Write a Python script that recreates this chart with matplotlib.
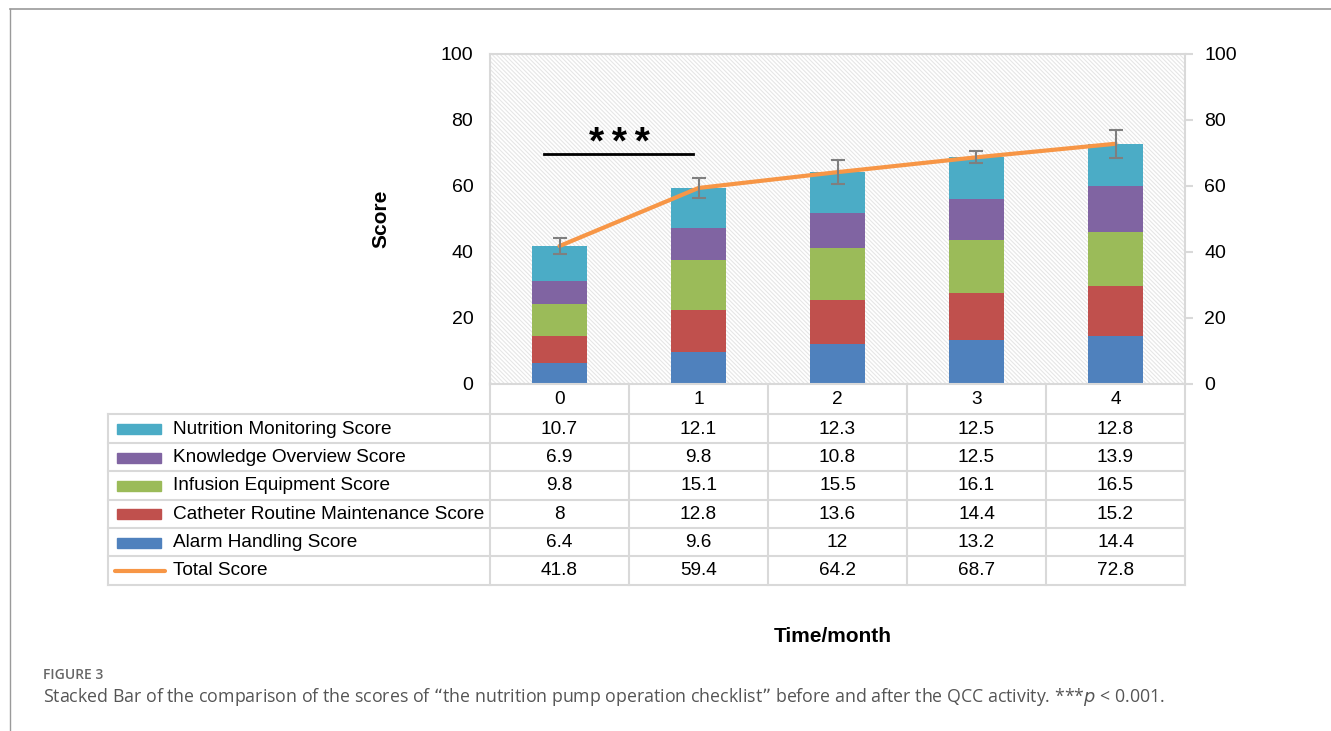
import numpy as np
import matplotlib
matplotlib.use('Agg')
import matplotlib.pyplot as plt
from matplotlib.patches import Rectangle
from matplotlib.lines import Line2D
from matplotlib.transforms import blended_transform_factory

plt.rcParams['font.family'] = ['Liberation Sans', 'DejaVu Sans']
plt.rcParams['hatch.linewidth'] = 0.8

# Dane
months = ['0', '1', '2', '3', '4']
alarm = [6.4, 9.6, 12, 13.2, 14.4]
catheter = [8, 12.8, 13.6, 14.4, 15.2]
infusion = [9.8, 15.1, 15.5, 16.1, 16.5]
knowledge = [6.9, 9.8, 10.8, 12.5, 13.9]
nutrition = [10.7, 12.1, 12.3, 12.5, 12.8]
total = [41.8, 59.4, 64.2, 68.7, 72.8]
total_err = [2.3, 3.1, 3.6, 1.8, 4.2]

# kolejność od dołu słupka
stack = [
    ('Alarm Handling Score', alarm, '#4f81bd'),
    ('Catheter Routine Maintenance Score', catheter, '#c0504d'),
    ('Infusion Equipment Score', infusion, '#9bbb59'),
    ('Knowledge Overview Score', knowledge, '#8064a2'),
    ('Nutrition Monitoring Score', nutrition, '#4bacc6'),
]
total_color = '#f79646'
grid_color = '#d9d9d9'

W, H = 1331, 731
fig = plt.figure(figsize=(W / 100, H / 100), dpi=100)

def fx(px):
    return px / W

def fy(py):
    return 1 - py / H

ax = fig.add_axes([fx(490), fy(384), fx(1185) - fx(490), fy(54) - fy(384)])
x = np.arange(len(months))

# tło z ukośnym kreskowaniem
bg = Rectangle((0, 0), 1, 1, transform=ax.transAxes, facecolor='white',
               edgecolor='#e6e6e6', hatch='\\' * 8, lw=0, zorder=0)
ax.add_patch(bg)

bottom = np.zeros(len(months))
for name, vals, col in stack:
    ax.bar(x, vals, width=0.4, bottom=bottom, color=col, zorder=2)
    bottom += np.array(vals)

ax.plot(x, total, color=total_color, lw=3, zorder=4, solid_capstyle='round')
ax.errorbar(x, total, yerr=total_err, fmt='none', ecolor='#7f7f7f',
            elinewidth=1.5, capsize=5, capthick=1.5, zorder=5)

# oznaczenie istotności
ax.plot([-0.11, 0.96], [69.7, 69.7], color='black', lw=2, zorder=5)
ax.text(0.43, 69.6, '*\u2009*\u2009*', ha='center', va='baseline', fontsize=28,
        fontweight='bold', zorder=5)

ax.set_xlim(-0.5, len(months) - 0.5)
ax.set_ylim(0, 100)
ax.set_yticks(range(0, 101, 20))
ax.set_xticks([])
ax.tick_params(axis='y', length=0, labelsize=14, pad=12)
for side in ['left', 'top', 'right']:
    ax.spines[side].set_color(grid_color)
    ax.spines[side].set_linewidth(1.5)
ax.spines['bottom'].set_visible(False)
ax.set_ylabel('Score', fontsize=15, fontweight='bold', labelpad=36)

ax2 = ax.twinx()
ax2.set_ylim(0, 100)
ax2.set_yticks(range(0, 101, 20))
ax2.tick_params(axis='y', length=6, width=1.5, color=grid_color, labelsize=14, pad=8)
for side in ['left', 'top', 'right', 'bottom']:
    ax2.spines[side].set_visible(False)

# tabela danych pod wykresem
tr = blended_transform_factory(ax.transData, fig.transFigure)
rows_px = [384, 414, 443, 471, 499.5, 528, 556, 584.5]
table_rows = [(name, vals, col) for name, vals, col in stack[::-1]]
table_rows.append(('Total Score', total, total_color))
fs_table = 13.7

for i, py in enumerate(rows_px):
    x0 = 108 if i >= 1 else 490
    fig.add_artist(Line2D([fx(x0), fx(1185)], [fy(py), fy(py)], color=grid_color, lw=1.5))
for px in [490, 629, 768, 907, 1046, 1185]:
    fig.add_artist(Line2D([fx(px), fx(px)], [fy(384), fy(584.5)], color=grid_color, lw=1.5))
fig.add_artist(Line2D([fx(108), fx(108)], [fy(414), fy(584.5)], color=grid_color, lw=1.5))

for j, m in enumerate(months):
    fig.text(j, fy(399.5), m, transform=tr, ha='center', va='center', fontsize=fs_table)

for i, (name, vals, col) in enumerate(table_rows):
    cy = fy((rows_px[i + 1] + rows_px[i + 2]) / 2 + 0.5)
    if name == 'Total Score':
        fig.add_artist(Line2D([fx(115), fx(165)], [cy, cy], color=col, lw=3,
                              solid_capstyle='round'))
    else:
        fig.add_artist(Rectangle((fx(117), cy - 5 / H), fx(161) - fx(117), 10 / H,
                                 color=col, transform=fig.transFigure))
    fig.text(fx(173), cy, name, ha='left', va='center', fontsize=fs_table)
    for j, v in enumerate(vals):
        fig.text(j, cy, f'{v:g}', transform=tr, ha='center', va='center', fontsize=fs_table)

fig.text(fx(833), fy(636), 'Time/month', ha='center', va='center',
         fontsize=15, fontweight='bold')

# ramka i podpis
fig.add_artist(Line2D([fx(10), 1], [fy(9), fy(9)], color='#9a9a9a', lw=1.2))
fig.add_artist(Line2D([fx(10), fx(10)], [fy(9), 0], color='#9a9a9a', lw=1))
fig.text(fx(43), fy(675), 'FIGURE 3', ha='left', va='center', fontsize=10,
         color='#666666', family=['Open Sans', 'DejaVu Sans'], fontweight='semibold')
fig.text(fx(43), fy(697),
         'Stacked Bar of the comparison of the scores of \u201cthe nutrition pump operation '
         'checklist\u201d before and after the QCC activity. ***$\\mathit{p}$ < 0.001.',
         ha='left', va='center', fontsize=12.8, color='#555555',
         family=['Open Sans', 'DejaVu Sans'])

fig.savefig('out.png', dpi=100)
